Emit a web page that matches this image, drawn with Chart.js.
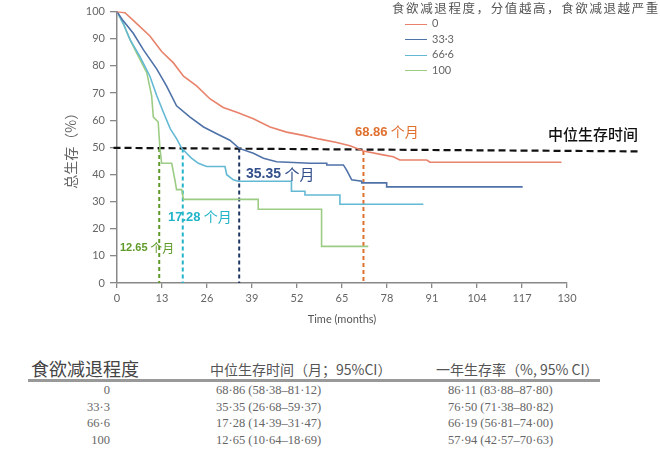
<!DOCTYPE html>
<html>
<head>
<meta charset="utf-8">
<script src="https://cdn.jsdelivr.net/npm/chart.js@4.4.1/dist/chart.umd.min.js"></script>
<style>
  body { margin: 0; width: 660px; height: 449px; background: #fff; position: relative; overflow: hidden; font-family: Lato, "Noto Sans CJK SC", sans-serif; }
  #wrap { position: absolute; left: 0; top: 0; width: 660px; height: 335px; }
  .legend { position: absolute; left: 392px; top: 0; width: 300px; }
  .legend .ttl { font-family: "Noto Sans CJK SC", serif; font-size: 12.5px; color: #555; letter-spacing: 1.6px; white-space: nowrap; line-height: 16px; }
  .legend .item { position: absolute; left: 13px; font-size: 11px; color: #666; white-space: nowrap; }
  .legend .item i { display: inline-block; width: 22px; height: 0; border-top: 1.6px solid; vertical-align: middle; margin-right: 5px; }
  .tbl { position: absolute; font-size: 12.5px; color: #666; white-space: nowrap; font-family: "Liberation Serif", serif; }
  .hd { position: absolute; top: 358px; font-family: "Noto Sans CJK SC", sans-serif; color: #555; white-space: nowrap; }
  .rule { position: absolute; left: 28px; top: 379px; width: 572px; height: 2.5px; background: #999; }
</style>
</head>
<body>
<div id="wrap"><canvas id="kmChart"></canvas></div>
<div class="legend" id="legend"><div class="ttl">食欲减退程度，分值越高，食欲减退越严重</div></div>
<div class="hd" style="left:31px;top:355px;font-size:18px;color:#444;">食欲减退程度</div>
<div class="hd" style="left:210px;top:359px;font-size:14px;">中位生存时间（月；95%CI）</div>
<div class="hd" style="left:436px;top:359px;font-size:14px;">一年生存率（%, 95% CI）</div>
<div class="rule"></div>
<div id="rows"></div>
<script>
// groups (appetite loss score)
const groups = ['0', '33·3', '66·6', '100'];
const groupColors = ['#e8826a', '#4f72a8', '#63b9d4', '#9ccc84'];

// survival curves: [month, % alive]
const curve0 = [[0,100],[2.3,99.6],[5.7,95.6],[9.5,91],[12.9,85.3],[16.3,81.1],[19.2,76.2],[23,72.6],[26.9,67.8],[30.7,64.7],[34.6,62.9],[39.4,60.5],[44.2,57.5],[49,55.6],[53.8,54.4],[58.6,53],[63.5,51.8],[67.3,50.6],[71.2,48.6],[76.9,47.2],[79.8,46.5],[81.7,45.3],[89.5,45.3],[90.4,44.5],[128.4,44.5]];
const curve33 = [[0,100],[1.8,96.6],[4.7,92],[7.6,86],[11.5,78.8],[14.3,72.6],[17.2,65.3],[21.1,61.1],[25,57.5],[28.8,55],[32.6,52.6],[35.3,49.6],[39.4,47.8],[42.3,46],[46.1,44.7],[55.8,44.1],[60.6,44.1],[60.6,43.5],[65.4,43.5],[66.3,41.7],[67.8,38],[70.7,37.5],[70.7,36.9],[77.9,36.9],[77.9,35.4],[117.2,35.4]];
const curve66 = [[0,100],[1.8,95.6],[3.8,89.6],[6.6,83.5],[9.5,76.2],[11.5,69],[13.4,62.9],[15.4,56.8],[17.2,53.2],[18.7,49.6],[20.1,47.8],[21.5,46],[23.5,44.1],[25.9,42.9],[31.2,42.9],[31.7,39.9],[33.6,38],[35,37.5],[50.4,37.5],[50.4,33.8],[54.3,33.8],[54.3,32.4],[64.4,32.4],[64.4,29],[88.5,29]];
const curve100 = [[0,100],[1.8,95.6],[3.8,89.6],[5.7,84.7],[8.6,77.5],[10,69],[10.5,61.1],[11.9,59.3],[12.4,49.6],[12.9,44.1],[15.8,44.1],[16.8,37.5],[17.2,34.4],[18.7,34.4],[19.2,30.8],[40.8,30.8],[40.8,27.2],[59.1,27.2],[59.1,13.5],[72.6,13.5]];
const curves = [curve0, curve33, curve66, curve100];

// median survival guide lines
const medianLevel = [[-1, 49.8], [151, 48.5]];
const medianDropX = [71.2, 35.3, 19, 12.2];
const medianDropTop = [48.6, 49.6, 49.6, 49.7];
const medianDropColors = ['#e07030', '#1f3566', '#22b4c8', '#5f9a28'];
const medianNums = ['68.86', '35.35', '17.28', '12.65'];

// table
const medianCI = ['68·86 (58·38–81·12)', '35·35 (26·68–59·37)', '17·28 (14·39–31·47)', '12·65 (10·64–18·69)'];
const oneYearCI = ['86·11 (83·88–87·80)', '76·50 (71·38–80·82)', '66·19 (56·81–74·00)', '57·94 (42·57–70·63)'];

const xTicks = [0, 13, 26, 39, 52, 65, 78, 91, 104, 117, 130];

const toXY = arr => arr.map(p => ({ x: p[0], y: p[1] }));

const datasets = curves.map((c, i) => ({
  label: groups[i],
  data: toXY(c),
  borderColor: groupColors[i],
  borderWidth: 1.6,
  pointRadius: 0
}));
datasets.push({
  label: 'median',
  data: toXY(medianLevel),
  borderColor: '#111',
  borderWidth: 2.2,
  borderDash: [7, 4],
  pointRadius: 0,
  clip: false
});
medianDropX.forEach((x, i) => {
  datasets.push({
    label: 'drop' + i,
    data: [{ x: x, y: medianDropTop[i] }, { x: x, y: 0 }],
    borderColor: medianDropColors[i],
    borderWidth: 2,
    borderDash: [4, 3],
    pointRadius: 0
  });
});

// annotation texts on the plot
const noteSpots = [[355, 132, 13, 14], [246, 174, 14, 15], [168, 217, 13, 14], [120, 248, 11, 12]];
const notesPlugin = {
  id: 'notes',
  afterDatasetsDraw(chart) {
    const ctx = chart.ctx;
    ctx.save();
    ctx.textBaseline = 'middle';
    ctx.textAlign = 'left';
    medianNums.forEach((num, i) => {
      const [x, y, s1, s2] = noteSpots[i];
      ctx.fillStyle = medianDropColors[i] === '#1f3566' ? '#34508c' : medianDropColors[i];
      ctx.font = 'bold ' + s1 + 'px "Liberation Sans", sans-serif';
      ctx.fillText(num, x, y);
      const w = ctx.measureText(num).width;
      ctx.font = s2 + 'px "Noto Sans CJK SC"';
      ctx.fillText(' 个月', x + w, y);
    });
    ctx.fillStyle = '#111';
    ctx.font = '500 15px "Noto Sans CJK SC"';
    ctx.fillText('中位生存时间', 548, 134);
    ctx.restore();
  }
};

new Chart(document.getElementById('kmChart'), {
  type: 'line',
  data: { datasets },
  options: {
    responsive: true,
    maintainAspectRatio: false,
    animation: false,
    layout: { padding: { left: 58, top: 8, right: 93, bottom: 0 } },
    plugins: { legend: { display: false }, tooltip: { enabled: false } },
    scales: {
      x: {
        type: 'linear',
        min: 0,
        max: 130,
        afterBuildTicks: s => { s.ticks = xTicks.map(v => ({ value: v })); },
        afterFit: s => { s.height = 52; },
        grid: { drawOnChartArea: false, color: '#888', tickLength: 5, lineWidth: 1.3 },
        border: { color: '#888', width: 1.5 },
        ticks: { color: '#666', font: { family: 'Lato', size: 11 }, padding: 4, maxRotation: 0 },
        title: { display: true, text: 'Time (months)', color: '#555', font: { family: 'Lato', size: 11 }, padding: { top: 0, bottom: 9 } }
      },
      y: {
        min: 0,
        max: 100,
        ticks: { stepSize: 10, color: '#666', font: { family: 'Lato', size: 11 }, padding: 5 },
        afterFit: s => { s.width = 59; },
        grid: { drawOnChartArea: false, color: '#888', tickLength: 7, lineWidth: 1.3 },
        border: { color: '#888', width: 1.5 },
        title: { display: true, text: '总生存（%）', color: '#666', font: { family: 'Noto Sans CJK SC', size: 14 }, padding: { top: 4, bottom: 0 } }
      }
    }
  },
  plugins: [notesPlugin]
});

// legend and table as real text
const legend = document.getElementById('legend');
groups.forEach((g, i) => {
  const d = document.createElement('div');
  d.className = 'item';
  d.style.top = (16 + i * 15.5) + 'px';
  d.innerHTML = '<i style="border-color:' + groupColors[i] + '"></i>' + g;
  legend.appendChild(d);
});

const rows = document.getElementById('rows');
const rowY = [383, 400, 416, 433];
groups.forEach((g, i) => {
  const a = document.createElement('div');
  a.className = 'tbl';
  a.style.cssText = 'right:' + (660 - 110) + 'px;top:' + rowY[i] + 'px;';
  a.textContent = g;
  const b = document.createElement('div');
  b.className = 'tbl';
  b.style.cssText = 'left:216px;top:' + rowY[i] + 'px;';
  b.textContent = medianCI[i];
  const c = document.createElement('div');
  c.className = 'tbl';
  c.style.cssText = 'left:448px;top:' + rowY[i] + 'px;';
  c.textContent = oneYearCI[i];
  rows.append(a, b, c);
});
</script>
</body>
</html>
